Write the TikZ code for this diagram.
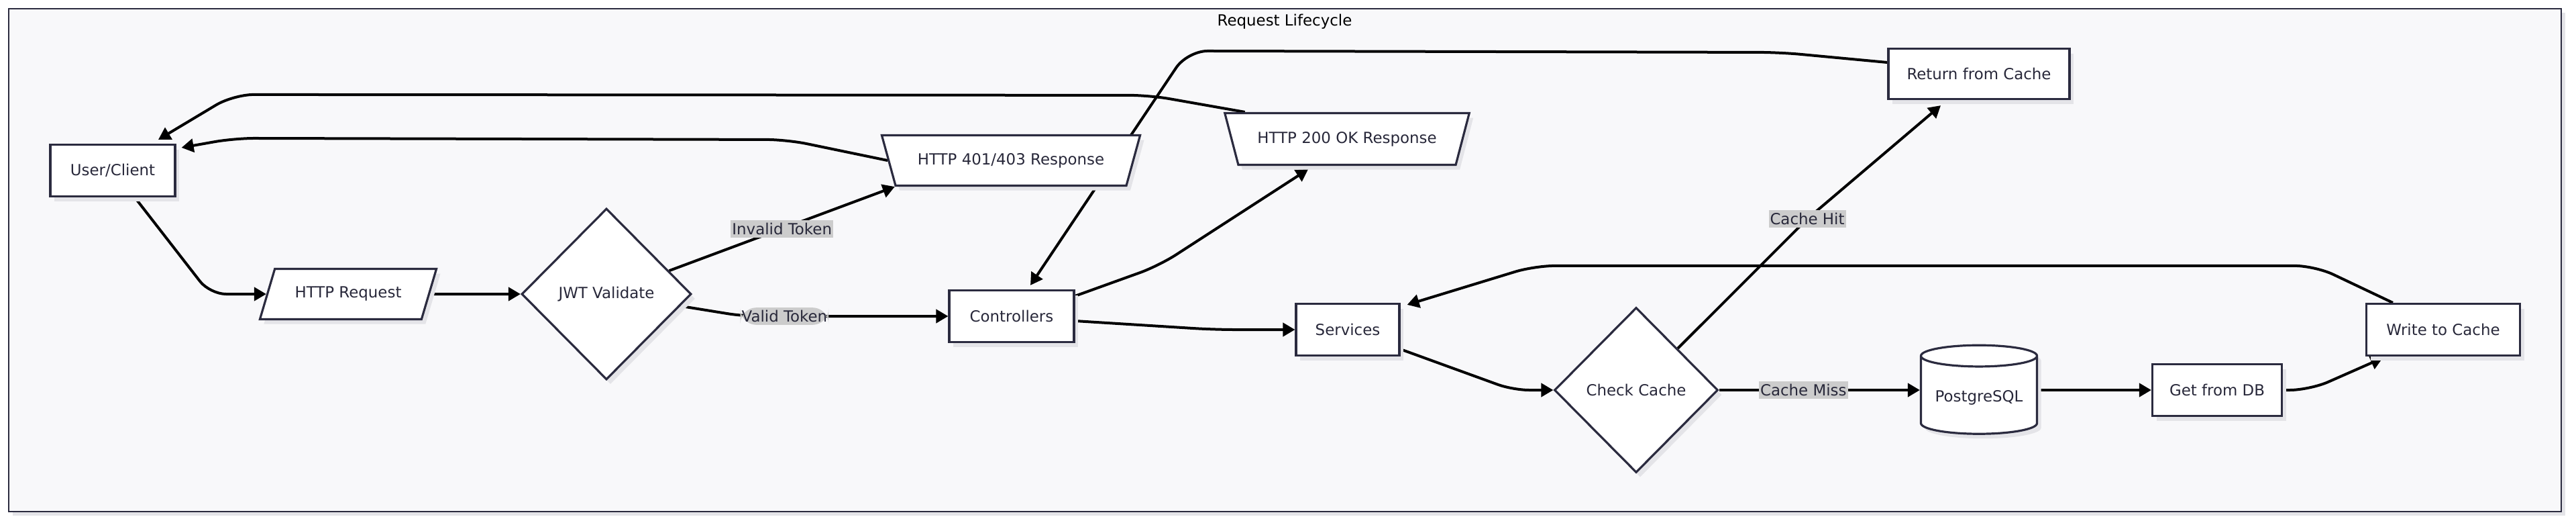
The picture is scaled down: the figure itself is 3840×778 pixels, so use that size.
\documentclass[tikz,border=0pt]{standalone}
\usepackage{fontspec}
\setmainfont{DejaVu Sans}
\usetikzlibrary{shapes.geometric, arrows.meta, positioning, calc, shadows, backgrounds}
\definecolor{nodeline}{HTML}{2B2B3F}
\definecolor{textc}{HTML}{28283A}
\definecolor{framefill}{HTML}{F8F8FA}
\definecolor{shadowc}{HTML}{E4E4E8}
\definecolor{lblfill}{HTML}{CCCCCC}

\begin{document}
\begin{tikzpicture}[x=0.5pt, y=-0.5pt,
  every node/.style={font=\fontsize{11.45}{14}\selectfont, text=textc},
  nodeshadow/.style={drop shadow={shadow xshift=3pt, shadow yshift=-3.5pt, fill=shadowc, opacity=1}},
  box/.style={rectangle, draw=nodeline, line width=1.6pt, fill=white,
    minimum height=38.5pt, nodeshadow},
  io/.style={trapezium, trapezium left angle=64, trapezium right angle=116,
    trapezium stretches=true, draw=nodeline, line width=1.6pt, fill=white,
    minimum height=37.5pt, inner xsep=2pt, nodeshadow},
  outio/.style={io, trapezium left angle=116, trapezium right angle=116},
  decision/.style={diamond, draw=nodeline, line width=1.6pt, fill=white,
    inner sep=0pt, nodeshadow},
  db/.style={cylinder, shape border rotate=90, aspect=0.22, draw=nodeline,
    line width=1.6pt, fill=white, minimum width=86.5pt, minimum height=66pt, nodeshadow},
  flow/.style={draw, -{Triangle[length=9pt, width=10pt]}, line width=2pt},
  lbl/.style={fill=lblfill, inner xsep=1pt, inner ysep=2pt},
  frame/.style={draw=nodeline, line width=1.2pt, fill=framefill,
    drop shadow={shadow xshift=3pt, shadow yshift=-3pt, fill=shadowc, opacity=1}}
]
\useasboundingbox (0,0) rectangle (3840,778);

\node[text=black] (title) at (1915,32) {Request Lifecycle};

% auth path
\node[box, minimum width=93pt] (user) at (168,254) {User/Client};
\node[io, minimum width=132.5pt] (req) at (519,438) {HTTP Request};
\node[decision, minimum width=126.5pt, minimum height=127.5pt] (jwt) at (904,438) {JWT Validate};
\node[outio, minimum width=193pt] (r401) at (1507,239) {HTTP 401/403 Response};
\node[box, minimum width=93pt] (ctrl) at (1508,471) {Controllers};
\node[outio, minimum width=182.5pt, minimum height=38.5pt] (r200) at (2008,207) {HTTP 200 OK Response};

% cache path
\node[box, minimum width=77pt] (svc) at (2009,491) {Services};
\node[box, minimum width=135pt, minimum height=37.5pt] (ret) at (2950,110) {Return from Cache};
\node[decision, minimum width=122pt, minimum height=123pt] (chk) at (2439,581) {Check Cache};
\node[db] (pg) at (2950,592) {PostgreSQL};
\node[box, minimum width=96.5pt] (get) at (3305,581) {Get from DB};
\node[box, minimum width=114.5pt] (wr) at (3642,491) {Write to Cache};

\begin{scope}[on background layer]
\draw[frame] (13,13) rectangle (3818,762);

\draw[flow, rounded corners=12pt] ($(user.south)+(33,0)$) -- ($(req.west)+(-84,0)$) -- (req.west);
\draw[flow] (req.east) -- (jwt.west);
\draw[flow] (jwt) -- node[lbl] {Invalid Token} (r401.bottom left corner);
\draw[flow, rounded corners=12pt] (jwt) -- ($(ctrl.west)+(-305,0)$)
  -- node[lbl, pos=0.2] {Valid Token} (ctrl.west);

% responses back to the client
\draw[flow, rounded corners=15pt] (r401.west) -- ($(r401.west)+(-150,-31)$)
  -- ($(user.north east)+(87,-8)$) -- ($(user.north east)+(8,6)$);
\draw[flow, rounded corners=15pt] ($(r200.top left corner)+(32,0)$) -- ($(r200.top left corner)+(-110,-25)$)
  -- ($(user.north)+(180,-73)$) -- ($(user.north)+(68,-6)$);
\draw[flow, rounded corners=15pt] ($(ctrl.north east)+(0,10)$) -- ($(ctrl.north east)+(125,-35)$)
  -- ($(r200.south)+(-58,5)$);
\draw[flow, rounded corners=15pt] ($(ret.west)+(0,-17)$) -- ($(ret.west)+(-160,-32)$)
  -- ($(ctrl.north)+(262,-355)$) -- ($(ctrl.north)+(28,-6)$);

% services and cache
\draw[flow, rounded corners=15pt] ($(ctrl.east)+(0,7)$) -- ($(svc.west)+(-120,0)$) -- (svc.west);
\draw[flow, rounded corners=12pt] ($(svc.south east)+(0,-11)$) -- ($(chk.west)+(-60,0)$) -- (chk.west);
\draw[flow] (chk) -- ($(ret.south)+(-256,177)$) node[lbl] {Cache Hit} -- ($(ret.south)+(-57,8)$);
\draw[flow] (chk.east) -- node[lbl, pos=0.42] {Cache Miss} (chk.east -| pg.west);
\draw[flow] (get.west -| pg.east) -- (get.west);
\draw[flow, rounded corners=15pt] (get.east) -- ($(get.east)+(40,0)$) -- ($(wr.south west)+(26,2)$);
\draw[flow, rounded corners=15pt] ($(wr.north west)+(41,0)$) -- ($(wr.north west)+(-75,-55)$)
  -- ($(svc.north east)+(200,-55)$) -- ($(svc.north east)+(10,3)$);
\end{scope}

\end{tikzpicture}
\end{document}
